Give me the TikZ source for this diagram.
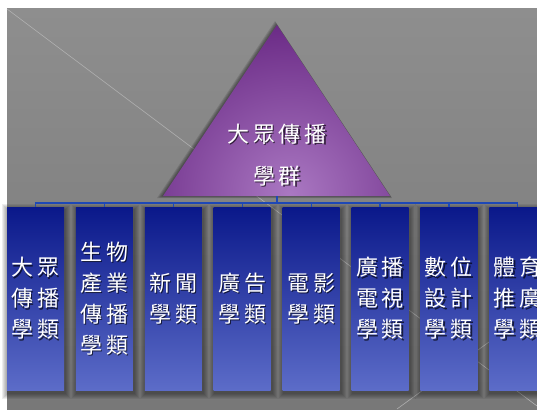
\documentclass[tikz,border=0pt]{standalone}
\usepackage{fontspec}
\newfontfamily\cjk[LetterSpace=18]{Noto Sans CJK TC}
\usetikzlibrary{calc}

\definecolor{bgtop}{RGB}{142,142,142}
\definecolor{bgbot}{RGB}{120,120,120}
\definecolor{boxtop}{RGB}{10,24,138}
\definecolor{boxbot}{RGB}{92,108,200}
\definecolor{tridark}{RGB}{90,22,118}
\definecolor{trilight}{RGB}{170,120,194}
\definecolor{busblue}{RGB}{30,72,182}
\definecolor{streak}{RGB}{176,176,176}

\tikzset{
	clsbox/.style={minimum width=57pt,minimum height=183pt,inner sep=0pt,top color=boxtop,bottom color=boxbot},
	lbl/.style={text=white,font=\cjk\fontsize{22}{31}\selectfont,align=center,inner sep=0pt},
	lblshadow/.style={lbl,text=black,opacity=.65},
	grouplbl/.style={font=\cjk\fontsize{22}{42}\selectfont},
	bus/.style={draw=busblue,line width=1.2pt},
}

\newcommand{\shadowlabel}[4][]{%
	\node[lblshadow,#1] (#2s) at ($(#3)+(1.4,1.4)$) {#4};
	\node[lbl,#1] (#2) at (#3) {#4};
}

\begin{document}
\begin{tikzpicture}[x=1pt,y=-1pt]

\clip (0,0) rectangle (537,409);
\fill[white] (0,0) rectangle (537,409);
\shade[top color=bgtop,bottom color=bgbot] (7,9) rectangle (537,409);

%background streaks
\draw[streak,line width=.6pt] (7,9)--(537,406);
\draw[streak,line width=.6pt] (397,409)--(537,307);

%soft shadows behind the boxes
\foreach \i in {0, ..., 7}
{
	\foreach \s in {1, ..., 6}
	{
		\fill[black,opacity=.07] (7+68.9*\i-\s+1,207-\s+3) rectangle (64+68.9*\i+\s+1,390+\s+3);
	}
}

\foreach \i [count=\n] in {0, ..., 7}
{
	\node[clsbox](box\n) at (35.5+68.9*\i,298.5){};
}

%group triangle
\coordinate (apex) at (277,25);
\coordinate (baseL) at (163,196);
\coordinate (baseR) at (390,196);
\coordinate (grpbase) at (277,196);
\coordinate (bus) at (277,203);

\foreach \s in {1, ..., 4}
{
	\fill[black,opacity=.12] (277-\s*.5,25-\s) -- (163-\s*1.5,196+\s*.5) -- (390+\s*.5,196+\s*.5) -- cycle;
}
\begin{scope}
	\clip (apex) -- (baseL) -- (baseR) -- cycle;
	\shade[inner color=trilight,outer color=tridark] (290,194) circle (215);
\end{scope}

\shadowlabel[grouplbl]{grp}{277,155}{大眾傳播\\學群}

%connectors
\draw[bus](grpbase)--(bus);
\draw[bus](box1.north)--(box1.north |- bus)--(box8.north |- bus)--(box8.north);
\foreach \n in {2, ..., 7}
{
	\draw[bus](box\n.north)--(box\n.north |- bus);
}

%box labels
\foreach \t [count=\n] in {大眾\\傳播\\學類, 生物\\產業\\傳播\\學類, 新聞\\學類, 廣告\\學類, 電影\\學類, 廣播\\電視\\學類, 數位\\設計\\學類, 體育\\推廣\\學類}
{
	\shadowlabel{lbl\n}{box\n}{\t}
}
\end{tikzpicture}
\end{document}
